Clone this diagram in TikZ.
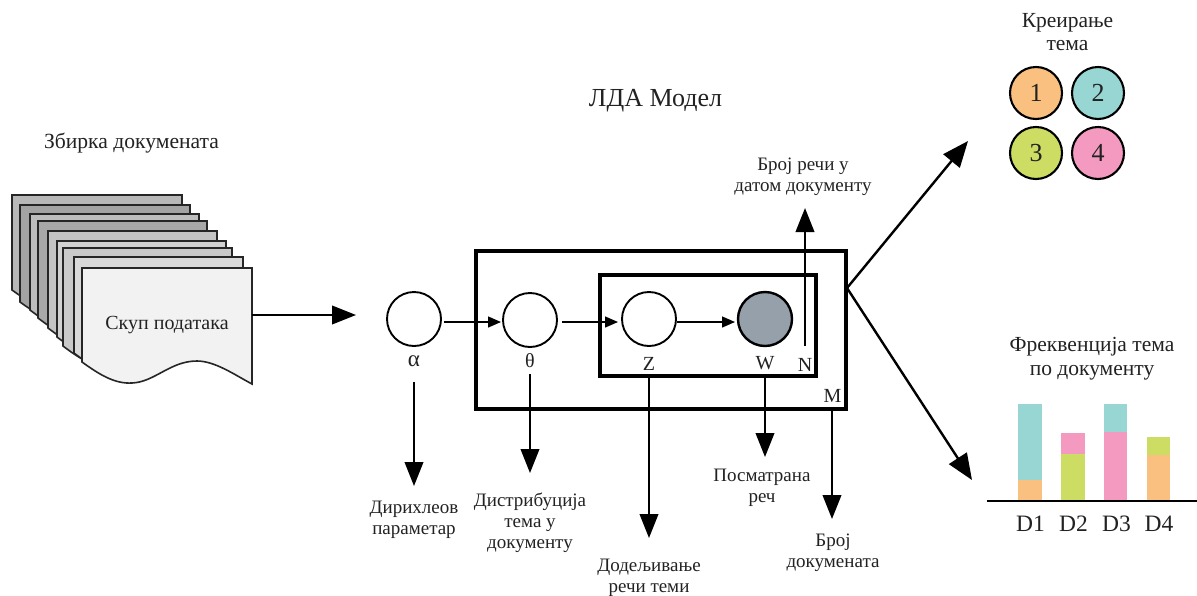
\documentclass[tikz,border=0pt]{standalone}
\usepackage{fontspec}
\setmainfont{Liberation Serif}
\usetikzlibrary{arrows.meta}
\definecolor{cOr}{HTML}{F9C07F}
\definecolor{cTe}{HTML}{97D6D3}
\definecolor{cGr}{HTML}{CDDC62}
\definecolor{cPi}{HTML}{F49AC1}
\definecolor{cTx}{HTML}{222222}
\definecolor{cW}{HTML}{96A0AB}
\tikzset{
 lab/.style={font=\fontsize{19}{21}\selectfont,text=cTx,align=center,inner sep=0pt},
 head/.style={font=\fontsize{21.5}{23.5}\selectfont,text=cTx,align=center,inner sep=0pt},
 bigl/.style={font=\fontsize{23.5}{25}\selectfont,text=cTx,inner sep=0pt},
 sym/.style={font=\fontsize{20}{22}\selectfont,text=cTx,inner sep=0pt},
 sheet/.style={draw=black!85,line width=1.6pt,line join=miter},
 bigarrow/.style={line width=2.4pt,-{Triangle[length=24pt,width=18.5pt]}},
 diagarrow/.style={line width=2.4pt,-{Triangle[length=26pt,width=21pt]}},
 smallarrow/.style={line width=1.4pt,-{Triangle[length=13pt,width=11pt]}},
 gm/.style={circle,draw=black,line width=1.9pt,minimum size=54pt,inner sep=0pt,fill=white},
 topic/.style={circle,draw=black,line width=2.1pt,minimum size=52pt,inner sep=0pt,font=\fontsize{26}{28}\selectfont,text=cTx},
 plate/.style={draw=black,inner sep=0pt},
}
\newcommand{\docsheet}[5]{% left top right bottomleft colour
 \fill[#5,sheet] (#1,#2) -- (#3,#2) -- (#3,#4+22) .. controls (#3-17,#4+13) and (#3-37,#4-1) .. (#3-55,#4-1)
 .. controls (#3-82,#4-1) and (#3-97,#4+20) .. (#3-120,#4+21) .. controls (#3-137,#4+22) and (#3-152,#4+13) .. (#1,#4) -- cycle;}
\begin{document}
\begin{tikzpicture}[x=1pt,y=-1pt]
\useasboundingbox (0,0) rectangle (1197,595);
\fill[white] (0,0) rectangle (1197,595);
% document stack
\docsheet{12}{195}{182}{290}{black!28}
\docsheet{20}{205}{190}{302}{black!36}
\docsheet{30}{214}{199}{310}{black!26}
\docsheet{38}{221}{207}{318}{black!34}
\docsheet{48}{231}{217}{328}{black!23}
\docsheet{57}{241}{226}{337}{black!18}
\docsheet{63}{248}{232}{346}{black!21}
\docsheet{74}{257}{243}{353}{black!15}
\docsheet{82}{268}{252}{362}{black!5}
\node[font=\fontsize{20}{22}\selectfont,text=cTx,inner sep=0pt] (skup) at (167,325) {Скуп података};
\coordinate (docout) at (252,315);
\node[font=\fontsize{21.6}{23}\selectfont,text=cTx,inner sep=0pt] (zbirka) at (131.5,143) {Збирка докумената};
\node[font=\fontsize{26}{28}\selectfont,text=cTx,inner sep=0pt] (model) at (655.5,101) {ЛДА Модел};
% plates
\node[plate,line width=3.6pt,minimum width=370pt,minimum height=158pt] (outer) at (661,330) {};
\node[plate,line width=3.1pt,minimum width=216pt,minimum height=101pt] (inner) at (708,325.5) {};
% gm nodes
\node[gm] (alpha) at (414,319) {};
\node[gm] (theta) at (530,320) {};
\node[gm] (z) at (649,319) {};
\node[gm,fill=cW,line width=2.4pt] (w) at (765,319) {};
\node[sym,font=\fontsize{23}{24}\selectfont] (la) at (414,361) {α};
\node[sym] (lt) at (530,361) {θ};
\node[sym] (lz) at (649,364) {Z};
\node[sym] (lw) at (765,363) {W};
\node[sym] (ln) at (805,365) {N};
\node[sym] (lm) at (832.5,396) {M};
\coordinate (a1) at (444,322);\coordinate (a2) at (501,322);
\coordinate (b1) at (562,322);\coordinate (b2) at (618,322);
\coordinate (c1) at (677,322);\coordinate (c2) at (735,322);
\draw[smallarrow] (a1) -- (a2);
\draw[smallarrow] (b1) -- (b2);
\draw[smallarrow] (c1) -- (c2);
% big arrows
\coordinate (docend) at (356,315);
\draw[bigarrow] (docout) -- (docend);
\coordinate (n0) at (805,346);\coordinate (n1) at (805,208);
\draw[bigarrow] (n0) -- (n1);
\coordinate (da) at (414,382);\coordinate (dae) at (414,486);
\draw[bigarrow] (da) -- (dae);
\coordinate (dt) at (530,374);\coordinate (dte) at (530,473);
\draw[bigarrow] (dt) -- (dte);
\coordinate (dz) at (649,378);\coordinate (dze) at (649,538);
\draw[bigarrow] (dz) -- (dze);
\coordinate (dw) at (765,378);\coordinate (dwe) at (765,457);
\draw[bigarrow] (dw) -- (dwe);
\coordinate (dm) at (832,410);\coordinate (dme) at (832,519);
\draw[bigarrow] (dm) -- (dme);
\coordinate (hub) at (847,288);\coordinate (hubu) at (968,141);\coordinate (hubd) at (972,480);
\draw[diagarrow] (hub) -- (hubu);
\draw[diagarrow] (hub) -- (hubd);
% captions
\node[lab] (cn) at (803,176.5) {Број речи у\\датом документу};
\node[lab] (ca) at (414,520) {Дирихлеов\\параметар};
\node[lab] (ct) at (530,522.5) {Дистрибуција\\тема у\\документу};
\node[lab] (cz) at (649,577.5) {Додељивање\\речи теми};
\node[lab] (cw) at (762,487.5) {Посматрана\\реч};
\node[lab] (cm) at (833,552.5) {Број\\докумената};
% topics
\node[head] (kr) at (1067.5,32) {Креирање\\тема};
\node[topic,fill=cOr] (t1) at (1036,93) {1};
\node[topic,fill=cTe] (t2) at (1098,93) {2};
\node[topic,fill=cGr] (t3) at (1036,153) {3};
\node[topic,fill=cPi] (t4) at (1098,153) {4};
% bars
\node[head] (fr) at (1092,358.5) {Фреквенција тема\\по документу};
\fill[cTe] (1018,404) rectangle (1042,480);
\fill[cOr] (1018,480) rectangle (1042,501);
\fill[cPi] (1061,433) rectangle (1085,454);
\fill[cGr] (1061,454) rectangle (1085,501);
\fill[cTe] (1104,404) rectangle (1127,432);
\fill[cPi] (1104,432) rectangle (1127,501);
\fill[cGr] (1147,437) rectangle (1170,455);
\fill[cOr] (1147,455) rectangle (1170,501);
\draw[line width=2.8pt] (987,501) -- (1197,501);
\node[bigl] (d1) at (1030.5,524) {D1};
\node[bigl] (d2) at (1073.5,524) {D2};
\node[bigl] (d3) at (1116.5,524) {D3};
\node[bigl] (d4) at (1159,524) {D4};
\end{tikzpicture}
\end{document}
